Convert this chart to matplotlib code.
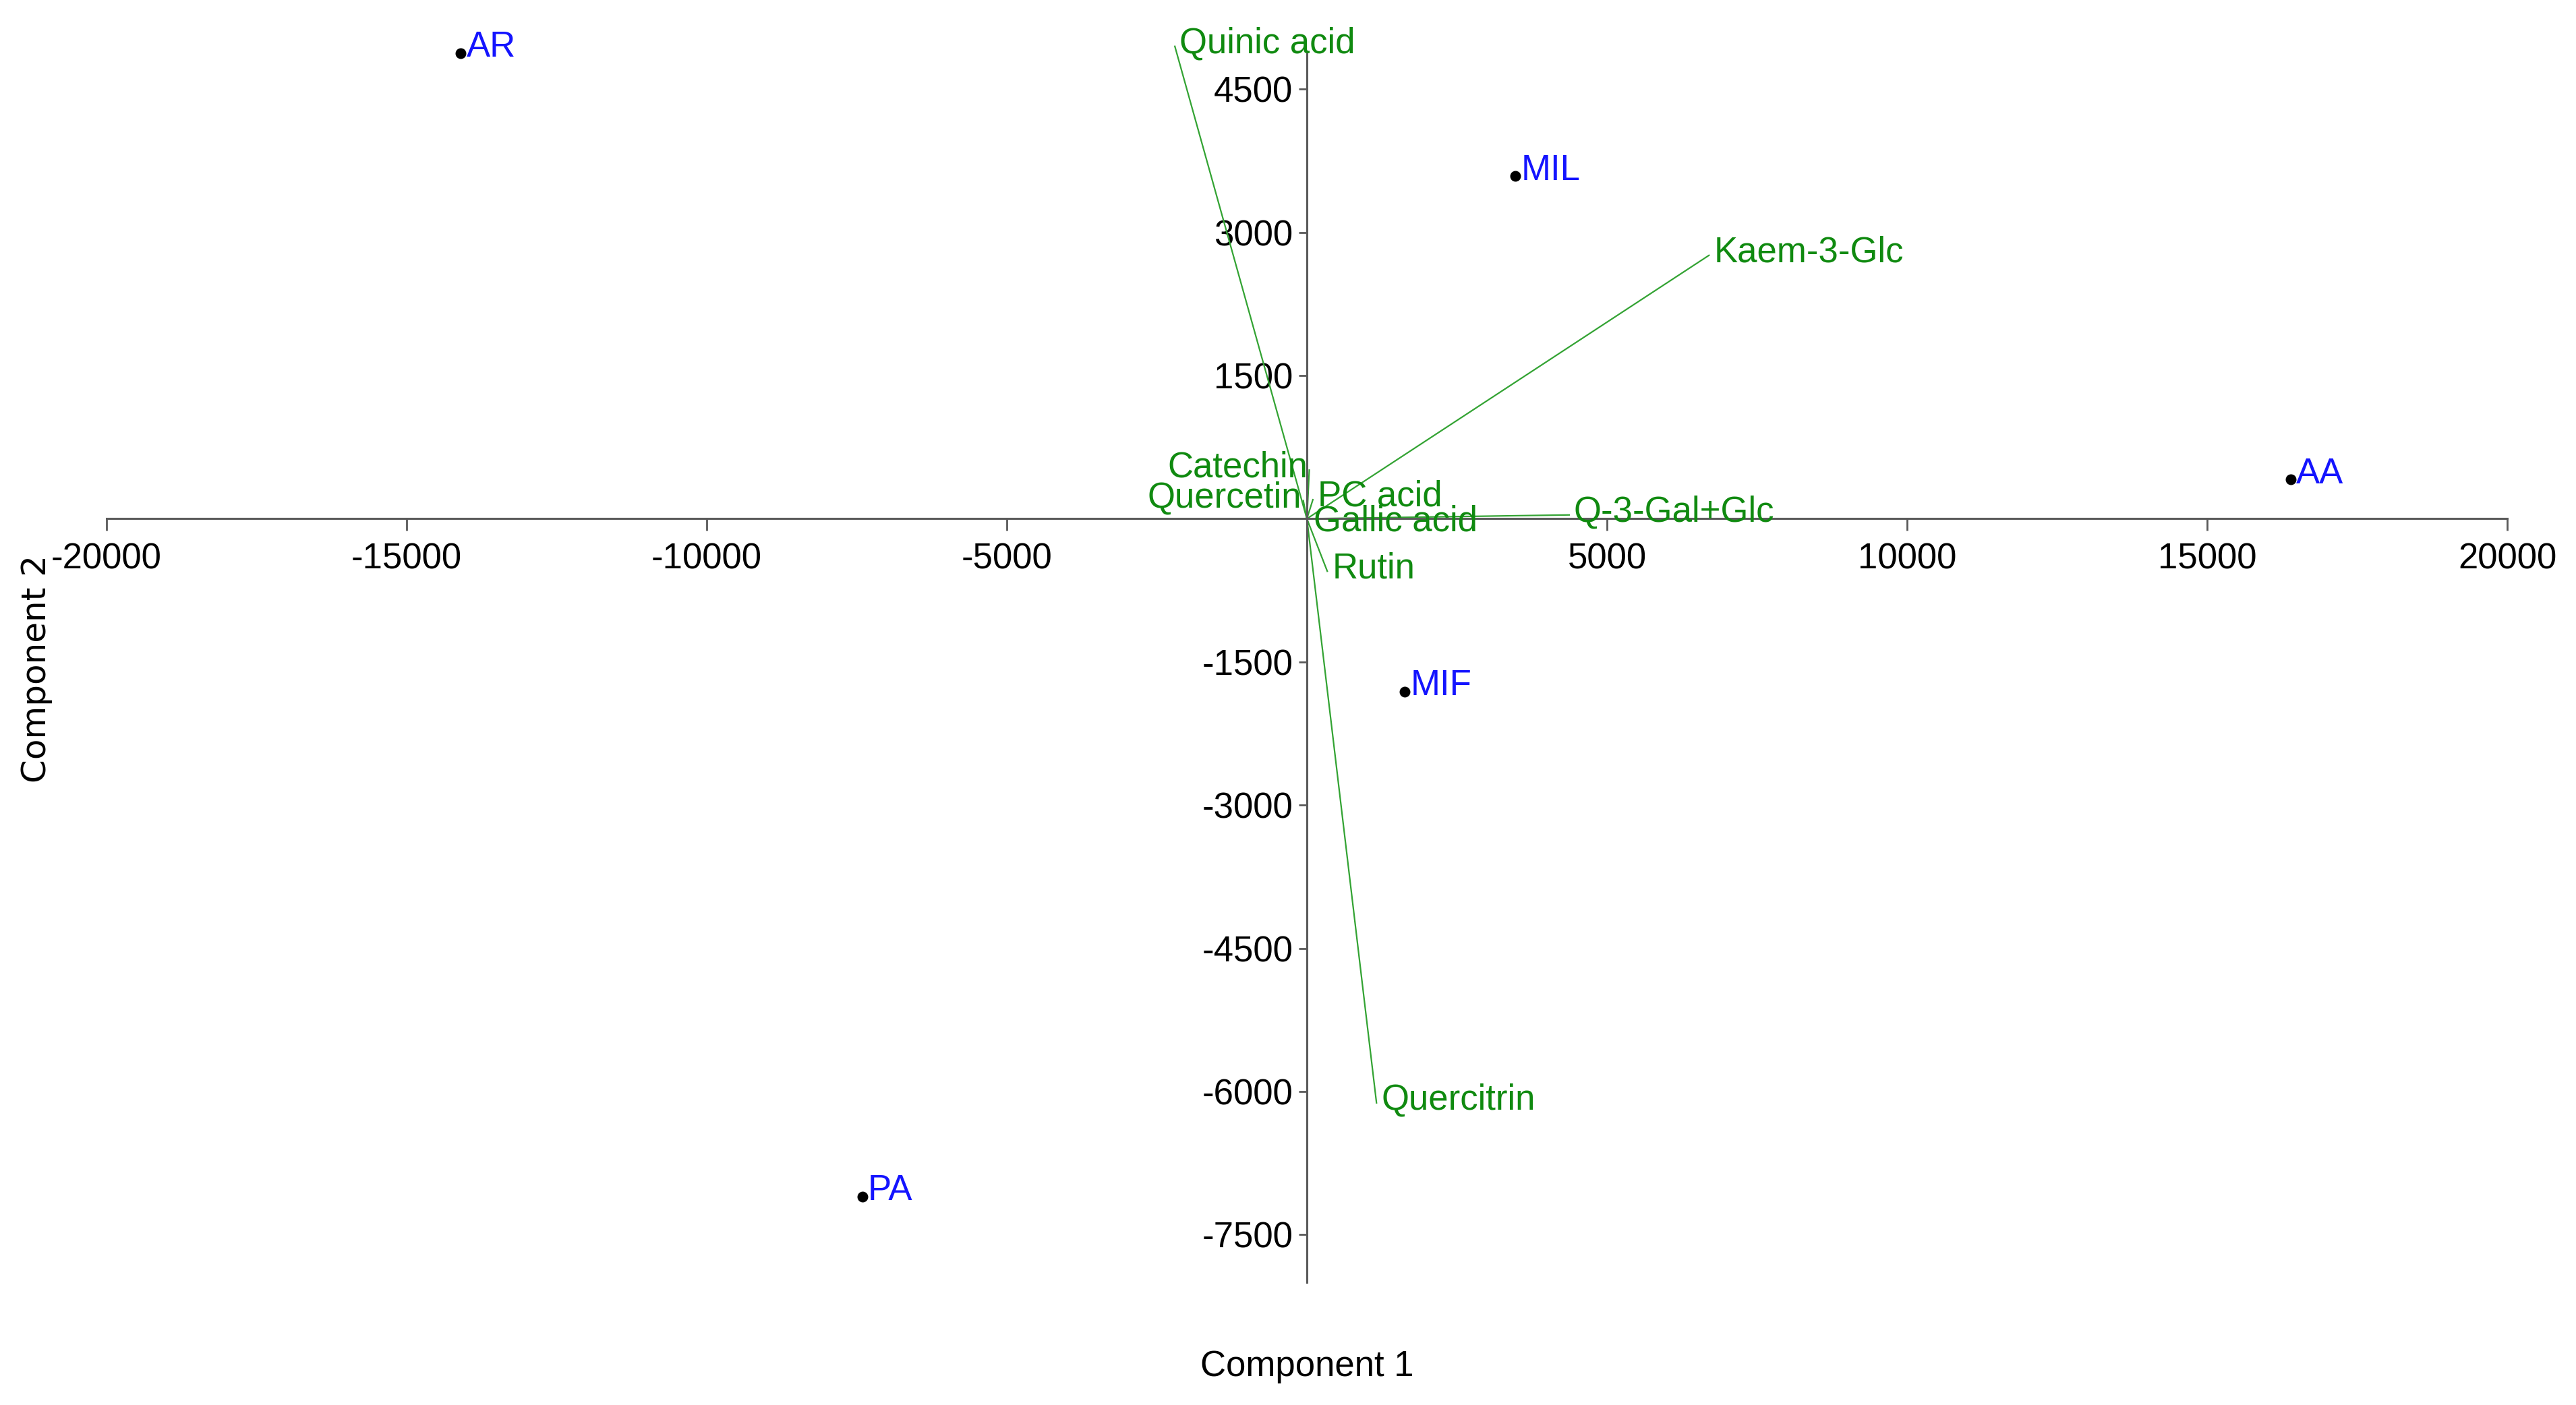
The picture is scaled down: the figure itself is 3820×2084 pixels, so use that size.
import numpy as np
import matplotlib
matplotlib.use('Agg')
import matplotlib.pyplot as plt
import matplotlib as mpl

mpl.rcParams['font.family'] = ['Liberation Sans', 'DejaVu Sans']
mpl.rcParams['font.size'] = 38

# sample scores (component 1, component 2)
samples = ['AR', 'MIL', 'AA', 'MIF', 'PA']
score_c1 = [-14100, 3470, 16390, 1630, -7410]
score_c2 = [4880, 3590, 410, -1810, -7100]

# variable loadings (scaled biplot vectors)
variables = ['Quinic acid', 'Kaem-3-Glc', 'Q-3-Gal+Glc', 'Quercitrin', 'Rutin',
             'Catechin', 'Quercetin', 'PC acid', 'Gallic acid']
load_c1 = [-2200, 6700, 4370, 1160, 340, 40, -60, 100, 30]
load_c2 = [4950, 2760, 40, -6120, -550, 510, 190, 200, -60]

xticks = [-20000, -15000, -10000, -5000, 5000, 10000, 15000, 20000]
yticks = [-7500, -6000, -4500, -3000, -1500, 1500, 3000, 4500]

axis_col = '#5a5a5a'
line_col = '#33a333'
text_col = '#108a10'
pt_col = '#1414ff'

fig = plt.figure(figsize=(38.2, 20.84), dpi=100)
ax = fig.add_axes([158/3820, 182/2084, 3560/3820, 1822/2084])

ax.set_xlim(-20000, 20000)
ax.set_ylim(-8000, 4870)

for s in ['top', 'right']:
    ax.spines[s].set_visible(False)
ax.spines['left'].set_position(('data', 0))
ax.spines['bottom'].set_position(('data', 0))
for s in ['left', 'bottom']:
    ax.spines[s].set_color(axis_col)
    ax.spines[s].set_linewidth(2.2)

ax.set_xticks(xticks)
ax.set_yticks(yticks)
ax.set_xticklabels([str(t) for t in xticks])
ax.set_yticklabels([str(t) for t in yticks])
ax.tick_params(axis='x', direction='out', length=13, width=2, color=axis_col, pad=12, labelsize=38)
ax.tick_params(axis='y', direction='out', length=9, width=2, color=axis_col, pad=6, labelsize=38)

# loading vectors
for name, vx, vy in zip(variables, load_c1, load_c2):
    ax.plot([0, vx], [0, vy], color=line_col, lw=1.6, clip_on=False, zorder=2)
    if name in ('Catechin', 'Quercetin'):
        ax.annotate(name, (vx, vy), xytext=(-2, 3), textcoords='offset points',
                    ha='right', va='center', color=text_col, fontsize=38, zorder=3,
                    annotation_clip=False)
    else:
        ax.annotate(name, (vx, vy), xytext=(5, 3), textcoords='offset points',
                    ha='left', va='center', color=text_col, fontsize=38, zorder=3,
                    annotation_clip=False)

# sample points
ax.scatter(score_c1, score_c2, s=110, color='black', zorder=4, clip_on=False)
for name, sx, sy in zip(samples, score_c1, score_c2):
    ax.annotate(name, (sx, sy), xytext=(6, 6), textcoords='offset points',
                ha='left', va='center', color=pt_col, fontsize=38, zorder=4,
                annotation_clip=False)

fig.text(1938/3820, 1 - 2027/2084, 'Component 1', ha='center', va='center', fontsize=38)
fig.text(54/3820, 1 - 992/2084, 'Component 2', ha='center', va='center',
         rotation=90, fontsize=36, family='DejaVu Sans')

fig.savefig('out.png', dpi=100, facecolor='white')
